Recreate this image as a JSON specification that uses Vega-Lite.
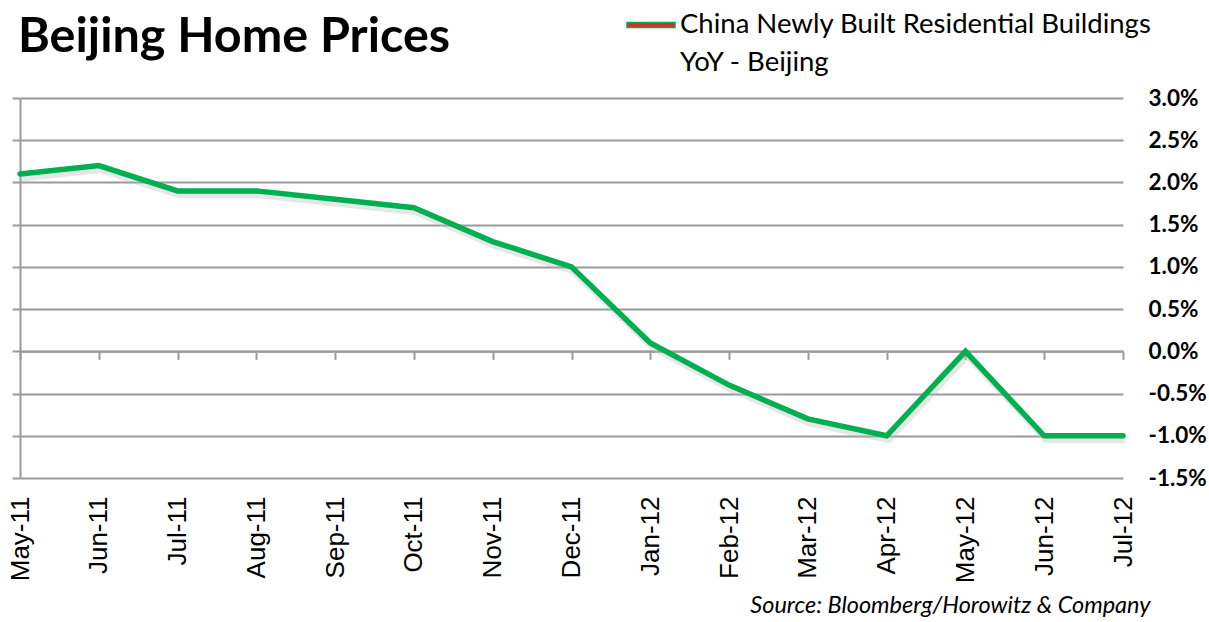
{
  "$schema": "https://vega.github.io/schema/vega-lite/v6.json",
  "width": 1103,
  "height": 380,
  "autosize": "none",
  "padding": {"left": 20, "top": 98, "right": 86, "bottom": 144},
  "background": "white",
  "title": {"text": "Beijing Home Prices", "anchor": "start", "frame": "group", "font": "Lato", "fontSize": 48.5, "fontWeight": "bold", "color": "black", "dx": -2, "baseline": "alphabetic", "offset": -48, "dy": 52},
  "config": {"view": {"stroke": null}, "style": {"guide-label": {"lineHeight": 38}}},
  "data": {"values": [
    {"month": "May-11", "value": 2.1},
    {"month": "Jun-11", "value": 2.2},
    {"month": "Jul-11", "value": 1.9},
    {"month": "Aug-11", "value": 1.9},
    {"month": "Sep-11", "value": 1.8},
    {"month": "Oct-11", "value": 1.7},
    {"month": "Nov-11", "value": 1.3},
    {"month": "Dec-11", "value": 1.0},
    {"month": "Jan-12", "value": 0.1},
    {"month": "Feb-12", "value": -0.4},
    {"month": "Mar-12", "value": -0.8},
    {"month": "Apr-12", "value": -1.0},
    {"month": "May-12", "value": 0.0},
    {"month": "Jun-12", "value": -1.0},
    {"month": "Jul-12", "value": -1.0}
  ]},
  "layer": [
    {
      "mark": {"type": "line", "opacity": 0},
      "encoding": {
        "x": {"field": "month", "type": "ordinal", "sort": null, "scale": {"type": "point", "padding": 0},
          "axis": {"orient": "bottom", "offset": -126.67, "labels": false, "title": null, "grid": false, "domainColor": "#9a9a9a", "domainWidth": 2, "tickColor": "#9a9a9a", "tickWidth": 2, "tickSize": 8}},
        "y": {"field": "value", "type": "quantitative", "scale": {"domain": [-1.5, 3], "nice": false, "zero": false},
          "axis": {"orient": "left", "values": [-1.5, -1, -0.5, 0, 0.5, 1, 1.5, 2, 2.5, 3], "labels": false, "title": null, "grid": true, "gridColor": "#9a9a9a", "gridWidth": 2, "domainColor": "#9a9a9a", "domainWidth": 2, "tickColor": "#9a9a9a", "tickWidth": 2, "tickSize": 8}}
      }
    },
    {
      "mark": {"type": "line", "color": "#bbbbbb", "strokeWidth": 7, "opacity": 0.35, "xOffset": 2, "yOffset": 4},
      "encoding": {
        "x": {"field": "month", "type": "ordinal", "sort": null, "axis": null},
        "y": {"field": "value", "type": "quantitative", "axis": null}
      }
    },
    {
      "mark": {"type": "line", "strokeWidth": 5.5, "strokeCap": "round"},
      "encoding": {
        "x": {"field": "month", "type": "ordinal", "sort": null,
          "axis": {"orient": "bottom", "domain": false, "ticks": false, "grid": false, "labelAngle": 270, "labelFont": "Liberation Sans", "labelFontSize": 26, "labelColor": "black", "labelPadding": 18,
            "title": "Source: Bloomberg/Horowitz & Company", "titleFont": "Lato", "titleFontStyle": "italic", "titleFontWeight": "normal", "titleFontSize": 23.5, "titleColor": "black", "titleAnchor": "end", "titleAlign": "right", "titleBaseline": "alphabetic", "titleX": 1130, "titleY": 134}},
        "y": {"field": "value", "type": "quantitative",
          "axis": {"orient": "right", "values": [-1.5, -1, -0.5, 0, 0.5, 1, 1.5, 2, 2.5, 3], "grid": false, "domain": false, "ticks": false, "labelPadding": 25, "labelFont": "Lato", "labelFontSize": 22.5, "labelFontWeight": "bold", "labelColor": "black", "title": null,
            "labelExpr": "(datum.value < 0 ? '-' : '') + format(abs(datum.value), '.1f') + '%'"}},
        "color": {"datum": "China Newly Built Residential Buildings YoY - Beijing", "type": "nominal", "scale": {"range": ["#00b050"]},
          "legend": {"orient": "none", "legendX": 606, "legendY": -98, "title": null, "padding": 0, "labelFont": "Lato", "labelFontSize": 27.5, "labelColor": "black", "labelLimit": 700, "labelOffset": 4,
            "labelExpr": "['China Newly Built Residential Buildings', 'YoY - Beijing']",
            "symbolType": "M-1,-0.1H1V0.1H-1Z", "symbolSize": 2304, "symbolFillColor": "#e3262b", "symbolStrokeColor": "#7cc35a", "symbolStrokeWidth": 1.5}}
      }
    }
  ],
  "resolve": {"axis": {"x": "independent", "y": "independent"}}
}
